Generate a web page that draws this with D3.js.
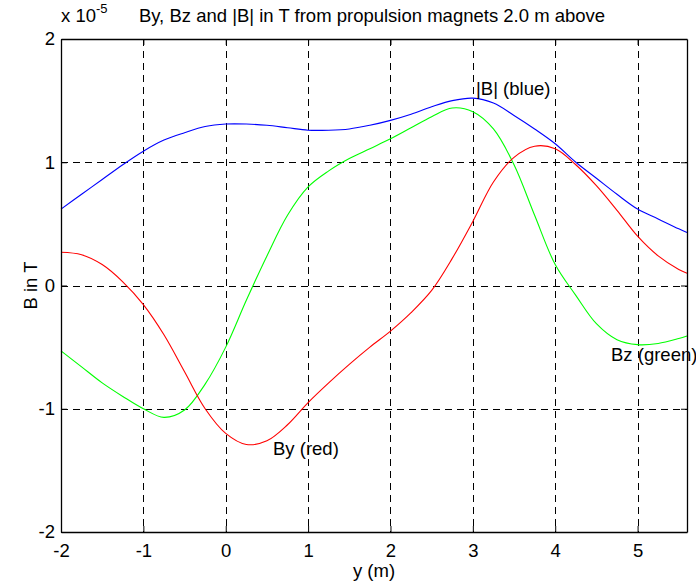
<!DOCTYPE html>
<html lang="en">
<head>
    <meta charset="utf-8" />
    <title>By, Bz and |B| from propulsion magnets</title>
    <script src="https://d3js.org/d3.v7.min.js"></script>
    <style>
        body { margin: 0; background: #fff; }
        svg { display: block; font-family: Arial, "Liberation Sans", Helvetica, sans-serif; }
        .grid line { stroke: #000; stroke-dasharray: 7,5; shape-rendering: crispEdges; }
        .lbl { font-size: 18.5px; fill: #000; }
    </style>
</head>
<body>
<svg width="696" height="585"></svg>

<script>
    // y position in m, field values in units of 1e-5 T
    const xTicks = [-2, -1, 0, 1, 2, 3, 4, 5];
    const yTicks = [-2, -1, 0, 1, 2];

    const pos = [-2, -1.75, -1.5, -1.25, -1, -0.75, -0.5, -0.25, 0, 0.25, 0.5, 0.75, 1, 1.25, 1.5, 1.75,
                 2, 2.25, 2.5, 2.75, 3, 3.25, 3.5, 3.75, 4, 4.25, 4.5, 4.75, 5, 5.25, 5.5, 5.6];

    const bAbs = [0.62, 0.74, 0.86, 0.98, 1.09, 1.18, 1.24, 1.29, 1.31, 1.31, 1.30, 1.28, 1.26, 1.26, 1.27, 1.30,
                  1.34, 1.39, 1.45, 1.50, 1.52, 1.48, 1.38, 1.27, 1.15, 1.00, 0.87, 0.74, 0.62, 0.54, 0.46, 0.43];

    const bz = [-0.53, -0.66, -0.79, -0.90, -1.00, -1.07, -1.01, -0.80, -0.50, -0.12, 0.24, 0.57, 0.80, 0.93, 1.03, 1.11,
                1.19, 1.28, 1.37, 1.44, 1.41, 1.27, 0.98, 0.57, 0.17, -0.08, -0.31, -0.44, -0.48, -0.47, -0.43, -0.41];

    const by = [0.27, 0.25, 0.17, 0.03, -0.155, -0.40, -0.70, -1.00, -1.20, -1.29, -1.26, -1.13, -0.95, -0.79, -0.64, -0.50,
                -0.37, -0.22, -0.04, 0.22, 0.52, 0.84, 1.04, 1.13, 1.11, 0.98, 0.81, 0.61, 0.40, 0.24, 0.13, 0.10];

    const svg = d3.select("svg");
    const margin = { top: 39, right: 9, bottom: 53, left: 61 };
    const width = +svg.attr("width");
    const height = +svg.attr("height");

    const x = d3.scaleLinear().domain([-2, 5.6]).range([margin.left, width - margin.right]);
    const y = d3.scaleLinear().domain([-2, 2]).range([height - margin.bottom, margin.top]);

    // dashed grid
    const grid = svg.append("g").attr("class", "grid");
    grid.selectAll(".gx")
        .data(xTicks.filter(d => d > -2))
        .join("line")
        .attr("x1", d => Math.round(x(d)) + 0.5).attr("x2", d => Math.round(x(d)) + 0.5)
        .attr("y1", y(2)).attr("y2", y(-2));
    grid.selectAll(".gy")
        .data(yTicks.filter(d => d > -2 && d < 2))
        .join("line")
        .attr("y1", d => Math.round(y(d)) + 0.5).attr("y2", d => Math.round(y(d)) + 0.5)
        .attr("x1", x(-2)).attr("x2", x(5.6));

    // curves
    const line = d3.line()
        .x((d, i) => x(pos[i]))
        .y(d => y(d))
        .curve(d3.curveCatmullRom.alpha(0.5));
    const series = [
        { vals: bAbs, color: "#0000ff" },
        { vals: bz, color: "#00ff00" },
        { vals: by, color: "#ff0000" }
    ];
    svg.append("g")
        .selectAll("path")
        .data(series)
        .join("path")
        .attr("fill", "none")
        .attr("stroke", d => d.color)
        .attr("stroke-width", 1.1)
        .attr("d", d => line(d.vals));

    // axes box with inward ticks
    const tick = 6;
    const fmt = d => String(d);
    const xAxisB = d3.axisBottom(x).tickValues(xTicks).tickSizeInner(-tick).tickSizeOuter(0).tickPadding(12).tickFormat(fmt);
    const xAxisT = d3.axisTop(x).tickValues(xTicks).tickSizeInner(-tick).tickSizeOuter(0).tickFormat("");
    const yAxisL = d3.axisLeft(y).tickValues(yTicks).tickSizeInner(-tick).tickSizeOuter(0).tickPadding(6).tickFormat(fmt);
    const yAxisR = d3.axisRight(y).tickValues(yTicks).tickSizeInner(-tick).tickSizeOuter(0).tickFormat("");

    function style(g) {
        g.selectAll("path").attr("stroke", "#000").attr("stroke-width", 1.3);
        g.selectAll("line").attr("stroke", "#000");
        g.selectAll("text").attr("fill", "#000").style("font-size", "18.5px");
    }
    svg.append("g").attr("transform", `translate(0,${y(-2)})`).call(xAxisB).call(style);
    svg.append("g").attr("transform", `translate(0,${y(2)})`).call(xAxisT).call(style);
    svg.append("g").attr("transform", `translate(${x(-2)},0)`).call(yAxisL).call(style);
    svg.append("g").attr("transform", `translate(${x(5.6)},0)`).call(yAxisR).call(style);

    // exponent
    const ex = svg.append("text").attr("class", "lbl").attr("x", 61).attr("y", 22);
    ex.append("tspan").text("x 10");
    ex.append("tspan").attr("dy", -9).style("font-size", "13px").text("-5");

    // title
    svg.append("text").attr("class", "lbl")
        .attr("x", 372).attr("y", 22).attr("text-anchor", "middle")
        .text("By, Bz and |B| in T from propulsion magnets 2.0 m above");

    // axis labels
    svg.append("text").attr("class", "lbl")
        .attr("x", (x(-2) + x(5.6)) / 2).attr("y", 577).attr("text-anchor", "middle")
        .text("y (m)");
    svg.append("text").attr("class", "lbl")
        .attr("transform", `translate(37,${(y(2) + y(-2)) / 2}) rotate(-90)`)
        .attr("text-anchor", "middle")
        .text("B in T");

    // curve labels
    svg.append("text").attr("class", "lbl").attr("x", 476).attr("y", 95).text("|B| (blue)");
    svg.append("text").attr("class", "lbl").attr("x", 273).attr("y", 455).text("By (red)");
    svg.append("text").attr("class", "lbl").attr("x", 611).attr("y", 361).text("Bz (green)");
</script>
</body>
</html>
